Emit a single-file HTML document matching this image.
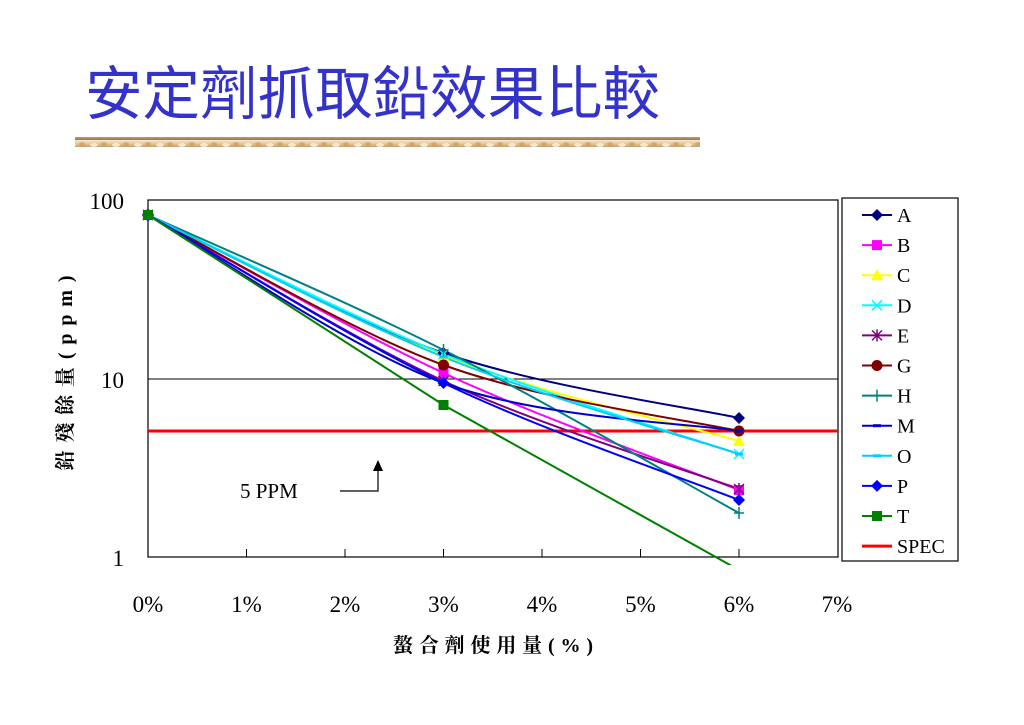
<!DOCTYPE html>
<html><head><meta charset="utf-8"><style>
body{margin:0;background:#fff;}
svg{display:block}
</style></head><body>
<svg id="s" width="1024" height="725" xmlns="http://www.w3.org/2000/svg" font-family="'Liberation Serif','Noto Serif CJK SC',serif">
<defs>
<linearGradient id="bar" x1="0" y1="0" x2="0" y2="1">
<stop offset="0" stop-color="#f6ead4"/><stop offset="0.5" stop-color="#dcb884"/><stop offset="1" stop-color="#9a7444"/>
</linearGradient>
<pattern id="spk" width="22" height="10" patternUnits="userSpaceOnUse">
<rect width="22" height="10" fill="url(#bar)"/>
<ellipse cx="6" cy="5" rx="4" ry="2" fill="#fbf1e0" opacity="0.8"/>
<ellipse cx="16" cy="4" rx="3" ry="2" fill="#c69656" opacity="0.6"/>
</pattern>
<clipPath id="cp"><rect x="140" y="195" width="700" height="370"/></clipPath>
</defs>
<text x="85" y="114" font-family="'Liberation Sans','Noto Sans CJK TC',sans-serif" font-size="58" fill="#3333cc" textLength="575" lengthAdjust="spacingAndGlyphs">安定劑抓取鉛效果比較</text>
<rect x="75" y="137" width="625" height="10" fill="url(#spk)"/>
<rect x="148" y="200" width="690" height="357" fill="#fff" stroke="#000" stroke-width="1.2"/>
<line x1="148" y1="379" x2="838" y2="379" stroke="#000" stroke-width="1"/>
<g stroke="#000" stroke-width="1">
<line x1="246.5" y1="557" x2="246.5" y2="549"/><line x1="345" y1="557" x2="345" y2="549"/>
<line x1="443.5" y1="557" x2="443.5" y2="549"/><line x1="542" y1="557" x2="542" y2="549"/>
<line x1="640.5" y1="557" x2="640.5" y2="549"/><line x1="739" y1="557" x2="739" y2="549"/>
</g>
<g font-size="23" text-anchor="end">
<text x="124" y="209">100</text><text x="124" y="388">10</text><text x="124" y="566">1</text>
</g>
<g font-size="23" text-anchor="middle">
<text x="148" y="612">0%</text><text x="246.5" y="612">1%</text><text x="345" y="612">2%</text><text x="443.5" y="612">3%</text><text x="542" y="612">4%</text><text x="640.5" y="612">5%</text><text x="739" y="612">6%</text><text x="837" y="612">7%</text>
</g>
<text x="493" y="652" font-size="20" text-anchor="middle" font-weight="bold" textLength="200" lengthAdjust="spacing" font-family="'Liberation Serif','Noto Serif CJK TC',serif">螯合劑使用量(%)</text>
<text transform="translate(72,373) rotate(-90)" font-size="20" text-anchor="middle" font-weight="bold" textLength="195" lengthAdjust="spacing" font-family="'Liberation Serif','Noto Serif CJK TC',serif">鉛殘餘量(ppm)</text>
<line x1="148" y1="431" x2="838" y2="431" stroke="#ff0000" stroke-width="3"/>
<text x="240" y="498" font-size="21">5 PPM</text>
<polyline points="340,491 378,491 378,470" fill="none" stroke="#000" stroke-width="1.2"/>
<polygon points="378,460 373,471 383,471" fill="#000"/>
<g id="series" clip-path="url(#cp)"></g>
<g id="marks"></g>
<rect x="842" y="198" width="116" height="363" fill="#fff" stroke="#000" stroke-width="1.2"/>
<g id="leg" font-size="20"></g>
</svg>
<script>
var NS="http://www.w3.org/2000/svg";
var S=[
["A","#000080",[215,353,418],"dia"],
["B","#ff00ff",[215,373,490],"sq"],
["C","#ffff00",[215,356,441],"tri"],
["D","#00ffff",[215,354,454],"x"],
["E","#800080",[215,381,489],"star"],
["G","#800000",[215,365,431],"circ"],
["H","#008080",[215,350,513],"plus"],
["M","#0000cc",[215,383,431],"dash"],
["O","#00ccff",[215,357,454],"dash"],
["P","#0000ff",[215,383,500],"dia"],
["T","#008000",[215,405,563],"sq"],
["SPEC","#ff0000",null,"none"]];
function el(n,a,p){var e=document.createElementNS(NS,n);for(var k in a)e.setAttribute(k,a[k]);p.appendChild(e);return e;}
function mark(t,x,y,c,p){
 if(t=="dia")el("polygon",{points:(x)+","+(y-6)+" "+(x+6)+","+y+" "+x+","+(y+6)+" "+(x-6)+","+y,fill:c},p);
 else if(t=="sq")el("rect",{x:x-5,y:y-5,width:10,height:10,fill:c},p);
 else if(t=="tri")el("polygon",{points:x+","+(y-6)+" "+(x+6)+","+(y+5)+" "+(x-6)+","+(y+5),fill:c},p);
 else if(t=="circ")el("circle",{cx:x,cy:y,r:5.5,fill:c},p);
 else if(t=="x")el("path",{d:"M"+(x-5)+" "+(y-5)+"L"+(x+5)+" "+(y+5)+"M"+(x+5)+" "+(y-5)+"L"+(x-5)+" "+(y+5),stroke:c,"stroke-width":1.5},p);
 else if(t=="star")el("path",{d:"M"+(x-5)+" "+(y-5)+"L"+(x+5)+" "+(y+5)+"M"+(x+5)+" "+(y-5)+"L"+(x-5)+" "+(y+5)+"M"+x+" "+(y-6)+"L"+x+" "+(y+6),stroke:c,"stroke-width":1.5},p);
 else if(t=="plus")el("path",{d:"M"+(x-5)+" "+y+"L"+(x+5)+" "+y+"M"+x+" "+(y-6)+"L"+x+" "+(y+6),stroke:c,"stroke-width":1.5},p);
 else if(t=="dash")el("path",{d:"M"+(x-4)+" "+y+"L"+(x+4)+" "+y,stroke:c,"stroke-width":3},p);
}
var g=document.getElementById("series"),m=document.getElementById("marks"),L=document.getElementById("leg");
S.forEach(function(s,i){
 if(s[2]){
  var ys=s[2],X=[148,443.5,739];
  var P=X.map(function(x,j){return [x,ys[j]];});
  if(s[0]=="T"){P[2]=[739,570];}
  var d="M"+P[0][0]+" "+P[0][1];
  var c1=[P[0][0]+(P[1][0]-P[0][0])/6,P[0][1]+(P[1][1]-P[0][1])/6],c2=[P[1][0]-(P[2][0]-P[0][0])/6,P[1][1]-(P[2][1]-P[0][1])/6];
  var c3=[P[1][0]+(P[2][0]-P[0][0])/6,P[1][1]+(P[2][1]-P[0][1])/6],c4=[P[2][0]-(P[2][0]-P[1][0])/6,P[2][1]-(P[2][1]-P[1][1])/6];
  if(s[0]=="T")d+="L"+P[1][0]+" "+P[1][1]+"L"+P[2][0]+" "+P[2][1];
  else d+="C"+c1+" "+c2+" "+P[1]+"C"+c3+" "+c4+" "+P[2];
  el("path",{d:d,fill:"none",stroke:s[1],"stroke-width":2},g);
  for(var j=0;j<3;j++){if(s[0]=="T"&&j==2)continue;mark(s[3],P[j][0],P[j][1],s[1],m);}
 }
 var y=215+i*30.1;
 el("line",{x1:862,y1:y,x2:892,y2:y,stroke:s[1],"stroke-width":s[0]=="SPEC"?3:2},L);
 mark(s[3],877,y,s[1],L);
 var t=el("text",{x:897,y:y+7},L);t.textContent=s[0];
});
</script>
</body></html>
